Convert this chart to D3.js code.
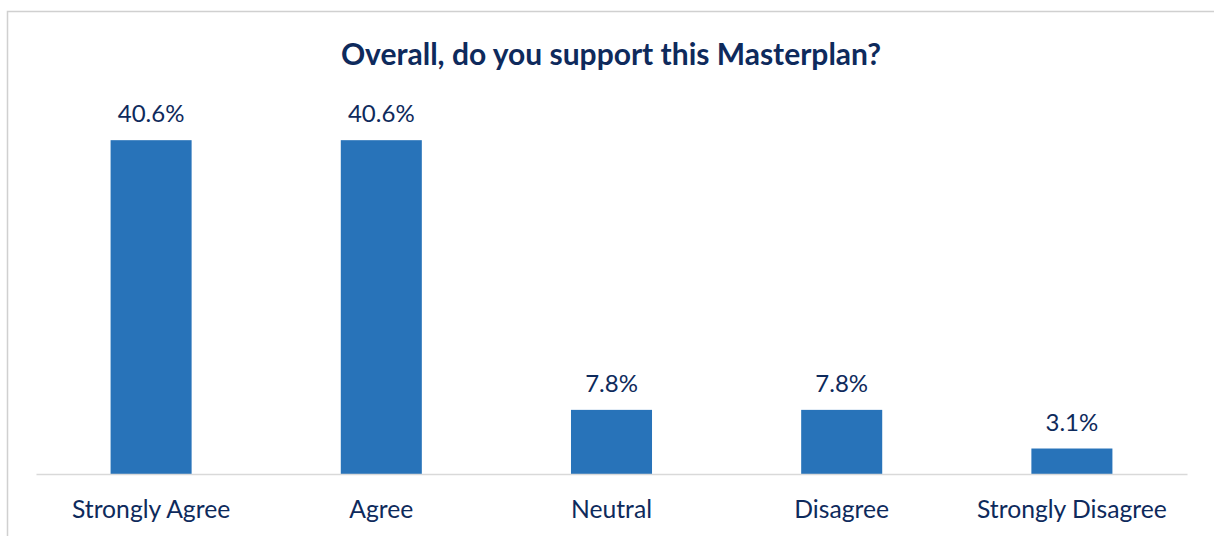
<!DOCTYPE html>
<html><head><meta charset="utf-8">
<script src="https://cdn.jsdelivr.net/npm/d3@7/dist/d3.min.js"></script>
<style>html,body{margin:0;padding:0;background:#fff;overflow:hidden}</style>
</head><body>
<script>
const categories = ["Strongly Agree","Agree","Neutral","Disagree","Strongly Disagree"];
const values = [40.6, 40.6, 7.8, 7.8, 3.1];
const valueLabels = ["40.6%","40.6%","7.8%","7.8%","3.1%"];
const title = "Overall, do you support this Masterplan?";

const W = 1214, H = 536;
const svg = d3.select("body").append("svg").attr("width", W).attr("height", H);
const textColor = "#0e2a5c", barColor = "#2873b9";
const font = "Lato, 'Open Sans', sans-serif";

svg.append("rect").attr("x", 7.5).attr("y", 11.5).attr("width", W + 20).attr("height", H + 20)
  .attr("fill", "#fff").attr("stroke", "#d0d0d0").attr("stroke-width", 1.5);

const x = d3.scaleBand().domain(categories).range([36, 1187]).paddingInner(0.648).paddingOuter(0.324);
const y = d3.scaleLinear().domain([0, 45]).range([474, 104]);

svg.append("text").attr("x", 611).attr("y", 65).attr("text-anchor", "middle")
  .attr("font-family", font).attr("font-weight", "bold").attr("font-size", 30)
  .attr("fill", textColor).text(title);

svg.selectAll("rect.bar").data(values).enter().append("rect").attr("class", "bar")
  .attr("x", (d, i) => x(categories[i])).attr("width", x.bandwidth())
  .attr("y", d => y(d)).attr("height", d => y(0) - y(d)).attr("fill", barColor);

const xAxis = svg.append("g").attr("transform", "translate(0,474)")
  .call(d3.axisBottom(x).tickSize(0).tickPadding(26));
xAxis.select(".domain").attr("stroke", "#d9d9d9").attr("stroke-width", 1.5);
xAxis.selectAll("text").attr("font-family", font).attr("font-size", 24.7).attr("fill", textColor);

svg.selectAll("text.val").data(values).enter().append("text").attr("class", "val")
  .attr("x", (d, i) => x(categories[i]) + x.bandwidth() / 2).attr("y", d => y(d) - 18)
  .attr("text-anchor", "middle").attr("font-family", font).attr("font-size", 24)
  .attr("fill", textColor).text((d, i) => valueLabels[i]);
</script>
</body></html>
